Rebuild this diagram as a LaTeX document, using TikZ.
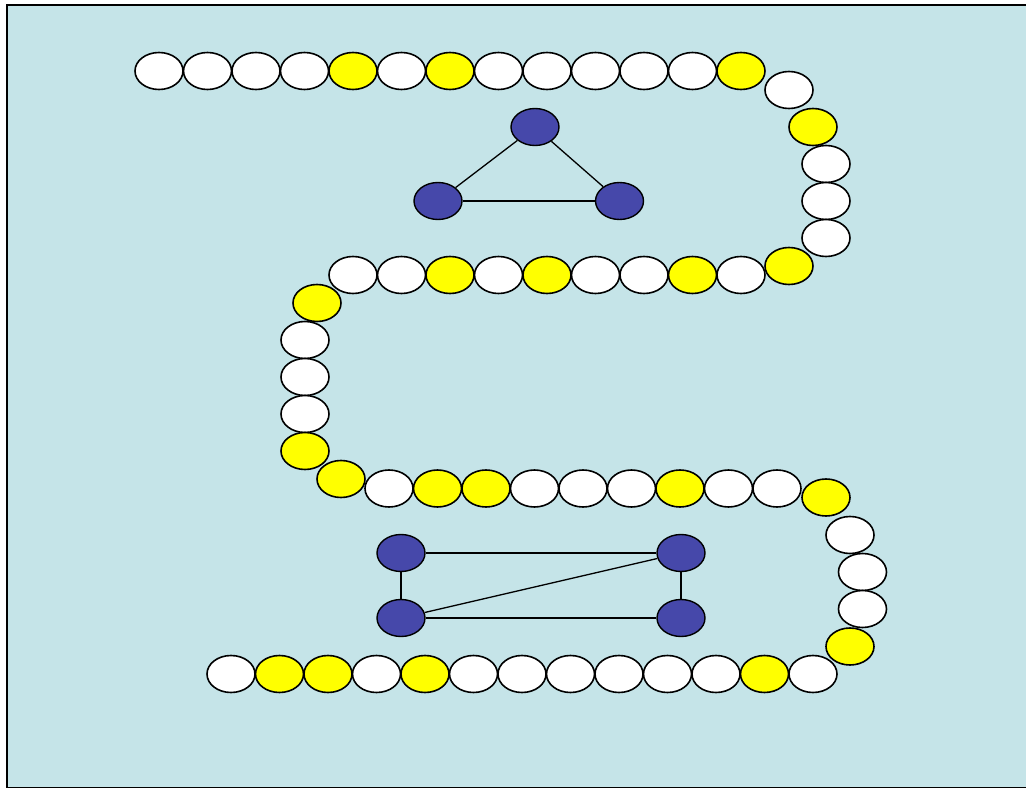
\documentclass[tikz,border=0pt]{standalone}
\usepackage{xcolor}
\usepackage{tikz}
\usetikzlibrary{shapes.geometric}

\definecolor{panel}{RGB}{197,228,232}
\definecolor{beadyellow}{RGB}{255,255,0}
\definecolor{atomblue}{RGB}{70,72,170}

\begin{document}
\begin{tikzpicture}[
        x=1pt, y=-1pt,
        bead/.style={ellipse, draw, line width=1.6pt, minimum width=48pt,
                     minimum height=37pt, inner sep=0pt},
        atom/.style={bead, fill=atomblue, line width=1.4pt},
        link/.style={line width=1.3pt}
    ]
        \useasboundingbox (0,0) rectangle (1026,789);
        \filldraw[fill=panel, draw=black, line width=1.8pt] (7,5) rectangle (1032,787.5);

        % top row
        \foreach \x/\c [count=\i] in {159/white,207.5/white,256/white,304.5/white,353/beadyellow,
                401.5/white,450/beadyellow,498.5/white,547/white,595.5/white,644/white,
                692.5/white,741/beadyellow}
            \node[bead, fill=\c] (top\i) at (\x,71) {};
        % first right bend
        \foreach \x/\y/\c [count=\i] in {789/90/white,813/127/beadyellow,826/164/white,
                826/201/white,826/238/white,789/266/beadyellow}
            \node[bead, fill=\c] (rbend\i) at (\x,\y) {};
        % second row
        \foreach \x/\c [count=\i] in {353/white,401.5/white,450/beadyellow,498.5/white,
                547/beadyellow,595.5/white,644/white,692.5/beadyellow,741/white}
            \node[bead, fill=\c] (mid\i) at (\x,275) {};
        % left bend
        \foreach \x/\y/\c [count=\i] in {317/303/beadyellow,305/340/white,305/377/white,
                305/414/white,305/451/beadyellow,341/479/beadyellow}
            \node[bead, fill=\c] (lbend\i) at (\x,\y) {};
        % third row
        \foreach \x/\c [count=\i] in {389/white,437.5/beadyellow,486/beadyellow,534.5/white,
                583/white,631.5/white,680/beadyellow,728.5/white,777/white}
            \node[bead, fill=\c] (low\i) at (\x,488.5) {};
        % second right bend
        \foreach \x/\y/\c [count=\i] in {826/497.5/beadyellow,850/535/white,862.5/572/white,
                862.5/609/white,850/646.5/beadyellow}
            \node[bead, fill=\c] (sbend\i) at (\x,\y) {};
        % bottom row
        \foreach \x/\c [count=\i] in {231/white,279.5/beadyellow,328/beadyellow,376.5/white,
                425/beadyellow,473.5/white,522/white,570.5/white,619/white,667.5/white,
                716/white,764.5/beadyellow,813/white}
            \node[bead, fill=\c] (bot\i) at (\x,674) {};

        % triangle
        \node[atom] (tria) at (535,127) {};
        \node[atom] (trib) at (438,201) {};
        \node[atom] (tric) at (619.5,201) {};
        \draw[link] (tria) -- (trib);
        \draw[link] (tria) -- (tric);
        \draw[link] (trib) -- (tric);

        % square
        \node[atom] (sqa) at (401,553) {};
        \node[atom] (sqb) at (681,553) {};
        \node[atom] (sqc) at (401,618) {};
        \node[atom] (sqd) at (681,618) {};
        \draw[link] (sqa) -- (sqb);
        \draw[link] (sqc) -- (sqd);
        \draw[link] (sqa) -- (sqc);
        \draw[link] (sqb) -- (sqd);
        \draw[link] (sqc) -- (sqb);
\end{tikzpicture}
\end{document}
